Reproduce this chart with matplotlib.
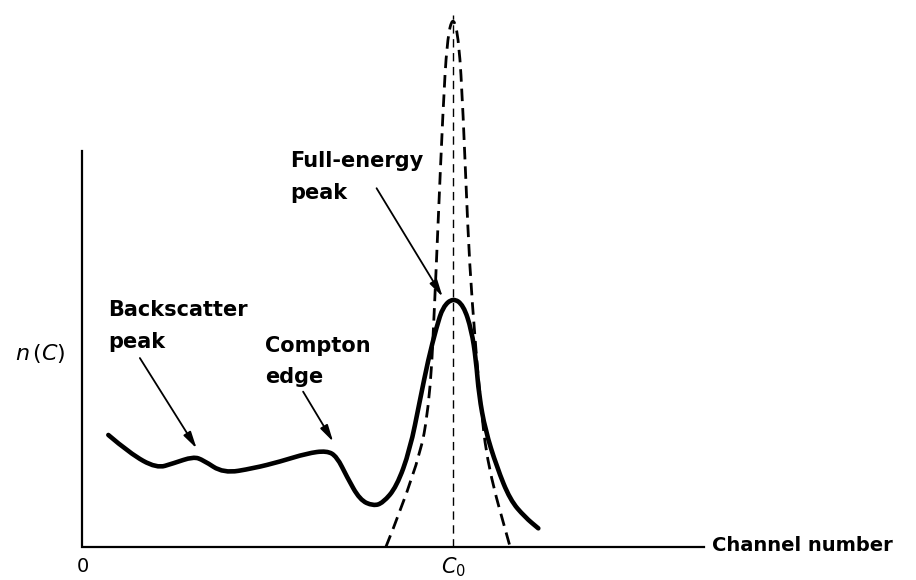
import matplotlib
matplotlib.use("Agg")
import matplotlib.pyplot as plt
from matplotlib.path import Path
from matplotlib.patches import PathPatch

# measured pulse-height spectrum (channel relative to C0 = 100, counts scaled so peak = 100)
spec_channel = [7.1, 12.9, 20.1, 24.6, 30.0, 32.7, 38.1, 46.2, 53.4, 60.6, 66.0,
                68.7, 71.4, 74.9, 78.5, 81.1, 84.8, 88.4, 91.1, 93.3, 95.6, 97.3,
                100.0, 102.8, 105.0, 106.2, 107.0, 108.7, 111.8, 115.4, 119.4, 123.0]
spec_counts = [45.0, 37.6, 31.6, 33.6, 36.3, 34.9, 29.6, 31.6, 34.3, 37.6, 38.7,
               36.3, 28.2, 18.9, 16.5, 17.7, 24.2, 39.0, 59.0, 75.1, 88.5, 96.5,
               100.0, 97.2, 87.1, 75.1, 61.0, 47.0, 32.2, 18.9, 12.0, 7.5]

# ideal detector response (narrow full-energy line)
ideal_channel = [81.9, 90.6, 93.8, 95.1, 95.9, 97.3, 98.4, 100.0,
                 101.6, 102.7, 104.0, 105.1, 107.3, 109.4, 115.4]
ideal_counts = [0.0, 32.1, 59.0, 99.2, 127.3, 175.5, 203.6, 213.7,
                203.6, 175.5, 127.3, 99.2, 59.0, 32.1, 0.0]

C0 = 100.0
axis_end = 167.7
axis_top = 159.0

# annotations: two text lines (x, baseline of each line), arrow tail, arrow head
labels = [("Backscatter", "peak"), ("Compton", "edge"), ("Full-energy", "peak")]
label_x = [7.0, 49.3, 56.1]
label_y = [(92.8, 79.9), (78.3, 65.9), (152.6, 139.8)]
arrow_tail = [(15.6, 75.9), (59.6, 62.4), (79.4, 144.1)]
arrow_head = [(30.9, 39.6), (67.7, 42.3), (97.2, 100.5)]


def smooth_path(xs, ys):
    # quadratic segments through midpoints, measured points act as controls
    pts = list(zip(xs, ys))
    verts = [pts[0]]
    codes = [Path.MOVETO]
    for i in range(1, len(pts) - 1):
        mid = ((pts[i][0] + pts[i + 1][0]) / 2, (pts[i][1] + pts[i + 1][1]) / 2)
        verts += [pts[i], mid]
        codes += [Path.CURVE3, Path.CURVE3]
    verts.append(pts[-1])
    codes.append(Path.LINETO)
    return Path(verts, codes)


def draw_spectrum():
    fig = plt.figure(figsize=(9.16, 5.8), dpi=100)
    ax = fig.add_axes([0, 0, 1, 1])
    ax.set_xlim(-22.1, 224.8)
    ax.set_ylim(-13.25, 219.7)
    ax.axis("off")

    # axes drawn by hand, textbook style
    ax.plot([0, 0, axis_end], [axis_top, 0, 0], color="black", lw=1.6,
            solid_joinstyle="miter")

    ax.add_patch(PathPatch(smooth_path(ideal_channel, ideal_counts), fill=False,
                           edgecolor="black", lw=2.0, linestyle=(0, (4.5, 2.5))))
    ax.plot([C0, C0], [0, ideal_counts[7]], color="black", lw=1.0,
            linestyle=(0, (6, 4)))
    ax.add_patch(PathPatch(smooth_path(spec_channel, spec_counts), fill=False,
                           edgecolor="black", lw=3.3, capstyle="round",
                           joinstyle="round"))

    for (line1, line2), x, (y1, y2), tail, head in zip(labels, label_x, label_y,
                                                       arrow_tail, arrow_head):
        ax.text(x, y1, line1, ha="left", va="baseline", fontsize=15,
                fontweight="bold")
        ax.text(x, y2, line2, ha="left", va="baseline", fontsize=15,
                fontweight="bold")
        ax.annotate("", xy=head, xytext=tail,
                    arrowprops=dict(arrowstyle="-|>,head_length=1.0,head_width=0.25",
                                    color="black", lw=1.3, shrinkA=0, shrinkB=0))

    ax.text(-11.3, 77.9, "$n\\,(C)$", ha="center", va="center", fontsize=16)
    ax.text(0.3, -8.0, "0", ha="center", va="center", fontsize=14)
    ax.text(C0, -12.9, "$C_0$", ha="center", va="bottom", fontsize=15)
    ax.text(axis_end + 2.0, 0.5, "Channel number", ha="left", va="center",
            fontsize=14, fontweight="bold")

    fig.savefig("out.png", dpi=100, facecolor="white")


if __name__ == "__main__":
    draw_spectrum()
